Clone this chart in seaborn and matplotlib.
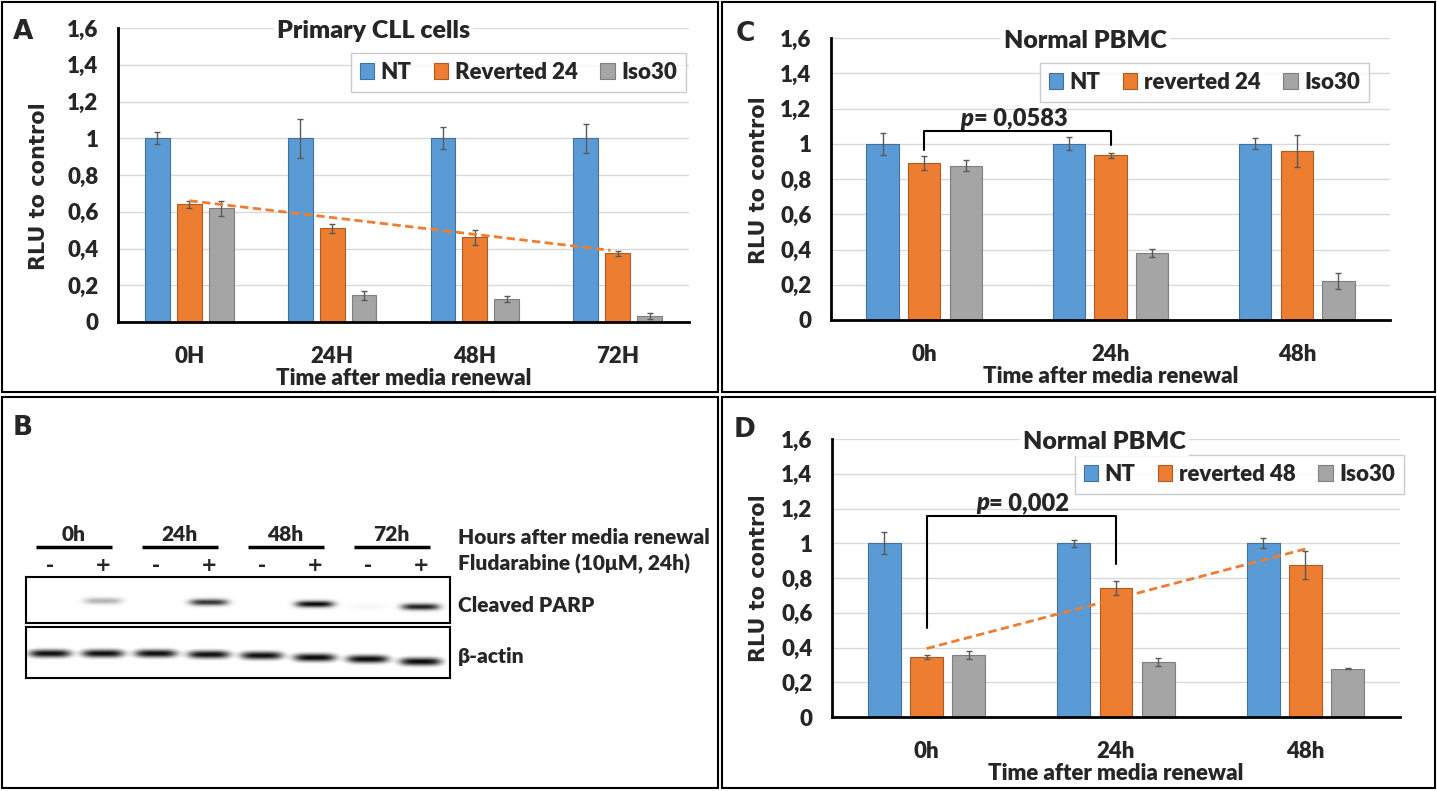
import numpy as np
import pandas as pd
import matplotlib.pyplot as plt
import seaborn as sns
from matplotlib.patches import Rectangle


W, H = 1437, 791

# ---- panel A : primary CLL cells
times_a = ["0H", "24H", "48H", "72H"]
series_a = ["NT", "Reverted 24", "Iso30"]
nt_a = [1.0, 1.0, 1.0, 1.0]
nt_a_err = [0.033, 0.107, 0.06, 0.078]
rev_a = [0.64, 0.51, 0.461, 0.374]
rev_a_err = [0.02, 0.025, 0.04, 0.015]
iso_a = [0.618, 0.145, 0.125, 0.031]
iso_a_err = [0.04, 0.023, 0.015, 0.017]
trend_a = [0.66, 0.39]

# ---- panel C : normal PBMC, reverted 24
times_c = ["0h", "24h", "48h"]
series_c = ["NT", "reverted 24", "Iso30"]
nt_c = [1.0, 1.0, 1.0]
nt_c_err = [0.062, 0.036, 0.032]
rev_c = [0.89, 0.934, 0.96]
rev_c_err = [0.04, 0.016, 0.09]
iso_c = [0.875, 0.378, 0.222]
iso_c_err = [0.032, 0.023, 0.044]
p_c = "= 0,0583"

# ---- panel D : normal PBMC, reverted 48
times_d = ["0h", "24h", "48h"]
series_d = ["NT", "reverted 48", "Iso30"]
nt_d = [1.0, 1.0, 1.0]
nt_d_err = [0.063, 0.02, 0.03]
rev_d = [0.346, 0.74, 0.875]
rev_d_err = [0.01, 0.04, 0.078]
iso_d = [0.358, 0.317, 0.279]
iso_d_err = [0.022, 0.021, 0.005]
trend_d = [0.394, 0.967]
p_d = "= 0,002"

# ---- panel B : western blot
blot_hours = ["0h", "24h", "48h", "72h"]
blot_drug = ["-", "+", "-", "+", "-", "+", "-", "+"]
parp_band = [0.0, 0.3, 0.0, 0.8, 0.0, 0.97, 0.03, 0.88]
actin_band = [0.95, 0.95, 0.95, 0.95, 0.95, 0.97, 0.97, 0.97]

yticks = [0, 0.2, 0.4, 0.6, 0.8, 1.0, 1.2, 1.4, 1.6]
ytick_labels = ["0", "0,2", "0,4", "0,6", "0,8", "1", "1,2", "1,4", "1,6"]

colors = ["#5B9BD5", "#ED7D31", "#A5A5A5"]
edges = ["#41719C", "#AE5A21", "#7F7F7F"]
ORANGE = "#ED7D31"
BOLD = "heavy"

sns.set_theme(style="white")
plt.rcParams["font.family"] = ["Lato", "DejaVu Sans"]
plt.rcParams["font.weight"] = BOLD

fig = plt.figure(figsize=(W / 100, H / 100), dpi=100)


def box(l, t, r, b):
    return [l / W, 1 - b / H, (r - l) / W, (b - t) / H]


def bar_panel(rect, times, series, vals, errs, title, title_x, legend_xy):
    ax = fig.add_axes(box(*rect))
    df = pd.DataFrame({
        "time": times * len(series),
        "series": [s for s in series for _ in times],
        "value": sum(vals, []),
    })
    sns.barplot(data=df, x="time", y="value", hue="series", palette=colors,
                width=0.67, gap=0.22, errorbar=None, saturation=1,
                linewidth=0.8, ax=ax, zorder=3)
    for cont, ec, err in zip(ax.containers, edges, errs):
        for bar, e in zip(cont, err):
            bar.set_edgecolor(ec)
            xc = bar.get_x() + bar.get_width() / 2
            ax.errorbar(xc, bar.get_height(), yerr=e, color="#595959",
                        lw=1, capsize=2.5, capthick=1, zorder=4)
    ax.set_ylim(0, 1.6)
    ax.set_xlim(-0.5, len(times) - 0.5)
    ax.set_yticks(yticks)
    ax.set_yticklabels(ytick_labels)
    ax.tick_params(length=0, labelsize=16, axis="both")
    ax.tick_params(axis="y", pad=14)
    ax.tick_params(axis="x", pad=17)
    for lab in ax.get_xticklabels() + ax.get_yticklabels():
        lab.set_fontweight(BOLD)
    ax.grid(axis="y", color="#D9D9D9", lw=1, zorder=0)
    ax.set_axisbelow(True)
    for s in ["top", "right"]:
        ax.spines[s].set_visible(False)
    for s in ["left", "bottom"]:
        ax.spines[s].set_color("black")
        ax.spines[s].set_linewidth(2)
        ax.spines[s].set_zorder(5)
    ax.set_xlabel("Time after media renewal", fontsize=16, fontweight=BOLD, labelpad=1)
    ax.set_ylabel("")
    ax.text(title_x, 0.99, title, transform=ax.transAxes, ha="center", va="center",
            fontsize=18, fontweight=BOLD, zorder=6,
            bbox=dict(fc="white", ec="none", pad=2))
    handles, labels = ax.get_legend_handles_labels()
    for h, ec in zip(handles, edges):
        h.set_edgecolor(ec)
    ax.legend(handles, labels, ncol=3, loc="upper right",
              bbox_to_anchor=(legend_xy[0] / W, 1 - legend_xy[1] / H),
              bbox_transform=fig.transFigure, borderaxespad=0,
              prop={"size": 16, "weight": BOLD},
              frameon=True, fancybox=False, edgecolor="#BFBFBF",
              handlelength=0.65, handleheight=0.75, handletextpad=0.3,
              columnspacing=1.0, borderpad=0.4)
    ax.get_legend().get_frame().set_linewidth(1)
    return ax


ax_a = bar_panel((118, 28, 689, 322), times_a, series_a, [nt_a, rev_a, iso_a],
                 [nt_a_err, rev_a_err, iso_a_err], "Primary CLL cells", 0.448, (686, 53))
ax_a.plot([0, 2.95], trend_a, ls=(0, (3, 1.6)), color=ORANGE, lw=2, zorder=6)

ax_c = bar_panel((831, 38, 1390, 320), times_c, series_c, [nt_c, rev_c, iso_c],
                 [nt_c_err, rev_c_err, iso_c_err], "Normal PBMC", 0.455, (1369, 63))
ax_c.plot([0, 0, 1, 1], [0.966, 1.07, 1.07, 0.994], color="black", lw=1.5, zorder=6)
ax_c.text(0.265, 1.143, "p", style="italic", fontsize=17, fontweight=BOLD, ha="right", va="center")
ax_c.text(0.265, 1.143, p_c, fontsize=17, fontweight=BOLD, ha="left", va="center")

ax_d = bar_panel((832, 439, 1400, 717), times_d, series_d, [nt_d, rev_d, iso_d],
                 [nt_d_err, rev_d_err, iso_d_err], "Normal PBMC", 0.48, (1404, 455))
ax_d.plot([0, 0, 1, 1], [0.51, 1.154, 1.154, 0.879], color="black", lw=1.5, zorder=6)
ax_d.plot([0, 2], trend_d, ls=(0, (3, 1.6)), color=ORANGE, lw=2, zorder=6)
ax_d.text(0.33, 1.232, "p", style="italic", fontsize=17, fontweight=BOLD, ha="right", va="center")
ax_d.text(0.33, 1.232, p_d, fontsize=17, fontweight=BOLD, ha="left", va="center")

# y labels
for x, y in [(39, 186), (759, 180), (759, 578)]:
    fig.text(x / W, 1 - y / H, "RLU to control", rotation=90, ha="center", va="center",
             fontsize=15, fontweight="bold", family="DejaVu Sans")


# ---- western blot
def blot_image(intensity, centres, half_width, thickness):
    xs = np.linspace(-0.45, 7.55, 800)
    ys = np.linspace(0, 1, 120)
    X, Y = np.meshgrid(xs, ys)
    dark = np.zeros_like(X)
    for lane, (amp, yc) in enumerate(zip(intensity, centres)):
        dark += amp * np.exp(-np.abs((X - lane) / half_width) ** 4) \
            * np.exp(-((Y - yc) / thickness) ** 2)
    return 1 - np.clip(dark, 0, 1)


parp_rows = [0.52, 0.52, 0.55, 0.55, 0.59, 0.59, 0.65, 0.65]
actin_rows = [0.52, 0.52, 0.52, 0.54, 0.56, 0.60, 0.63, 0.68]

ax_p = fig.add_axes(box(26, 577, 450, 623))
ax_p.imshow(blot_image(parp_band, parp_rows, 0.36, 0.07), cmap="gray", vmin=0, vmax=1,
            aspect="auto", extent=(-0.45, 7.55, 1, 0), interpolation="bilinear")
ax_b = fig.add_axes(box(26, 627, 450, 678))
ax_b.imshow(blot_image(actin_band, actin_rows, 0.4, 0.08), cmap="gray", vmin=0, vmax=0.95,
            aspect="auto", extent=(-0.45, 7.55, 1, 0), interpolation="bilinear")
for ax in (ax_p, ax_b):
    ax.set_xticks([])
    ax.set_yticks([])
    for s in ax.spines.values():
        s.set_color("black")
        s.set_linewidth(1.5)

tr = ax_p.get_xaxis_transform()
for lane, sign in enumerate(blot_drug):
    ax_p.text(lane, 1.26, sign, transform=tr, ha="center", va="center", fontsize=14,
              fontweight="bold", family="DejaVu Sans")
for g, lab in enumerate(blot_hours):
    c = 2 * g + 0.45
    ax_p.text(c, 1.93, lab, transform=tr, ha="center", va="center", fontsize=15, fontweight=BOLD)
    ax_p.plot([c - 0.72, c + 0.72], [1.65, 1.65], transform=tr, color="black", lw=2.5,
              clip_on=False, solid_capstyle="butt")

blot_text = [("Hours after media renewal", 538), ("Fludarabine (10μM, 24h)", 564),
             ("Cleaved PARP", 605), ("β-actin", 657)]
for t, y in blot_text:
    fig.text(458 / W, 1 - y / H, t, ha="left", va="center", fontsize=15, fontweight=BOLD)

# ---- panel frames and letters
for l, t, r, b in [(2, 2, 718, 392), (722, 2, 1435, 392), (2, 397, 718, 788), (722, 397, 1435, 788)]:
    fig.add_artist(Rectangle((l / W, 1 - b / H), (r - l) / W, (b - t) / H, transform=fig.transFigure,
                             fill=False, ec="black", lw=1.5))
for letter, x, y in [("A", 23, 32), ("B", 23, 428), ("C", 745, 34), ("D", 745, 430)]:
    fig.text(x / W, 1 - y / H, letter, ha="center", va="center", fontsize=19,
             fontweight="bold", family="DejaVu Sans")

fig.savefig("out.png", dpi=100, facecolor="white")
